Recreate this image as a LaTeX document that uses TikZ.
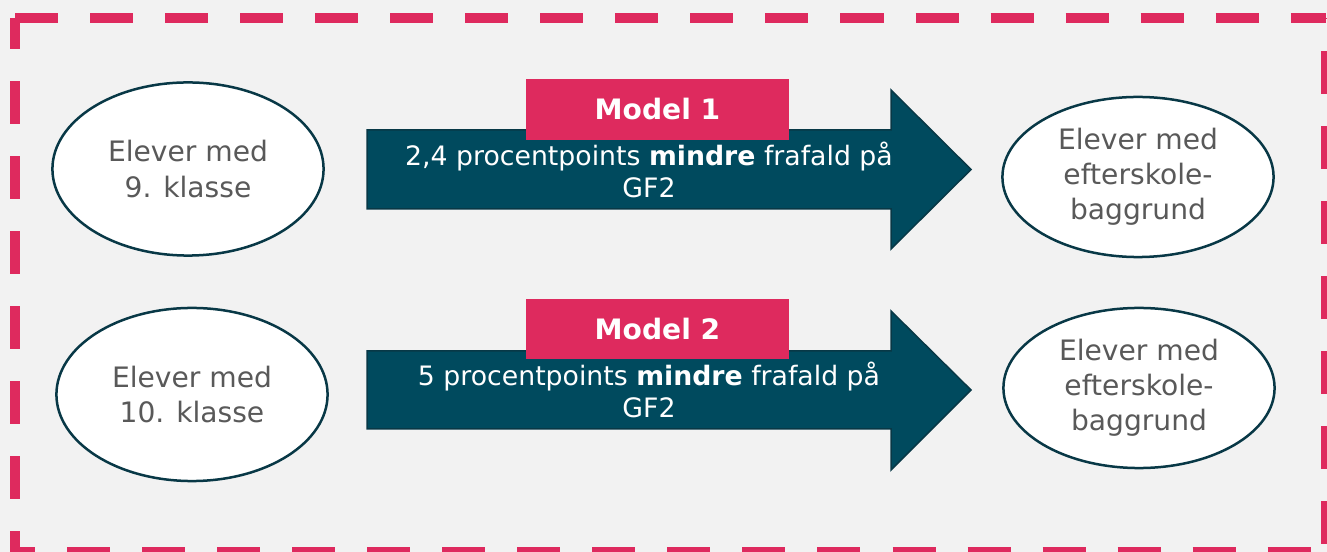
\documentclass[tikz,border=0pt]{standalone}
\usepackage{fontspec}
\setmainfont{DejaVu Sans}
\usetikzlibrary{positioning}
\usetikzlibrary{shapes.geometric}
\definecolor{baggrund}{RGB}{242,242,242}
\definecolor{pinkrod}{RGB}{222,42,94}
\definecolor{petrol}{RGB}{0,74,94}
\definecolor{petrolkant}{RGB}{8,56,70}
\definecolor{tekstgraa}{RGB}{89,89,89}
\tikzset{
    elev/.style={ellipse, draw=petrolkant, line width=0.025cm, fill=white,
        minimum width=2.71cm, minimum height=1.73cm, inner sep=0pt,
        align=center, text=tekstgraa, font=\fontsize{8pt}{10pt}\selectfont}, % ellipserne
    modelboks/.style={rectangle, fill=pinkrod, minimum width=2.63cm,
        minimum height=0.6cm, inner sep=0pt, text=white,
        font=\fontsize{8pt}{10pt}\selectfont\bfseries},
    pil/.style={fill=petrol, draw=petrolkant, line width=0.015cm},
    piltekst/.style={align=center, text=white, inner sep=0pt,
        font=\fontsize{7.6pt}{9.2pt}\selectfont},
    ramme/.style={draw=pinkrod, line width=0.1cm, dash pattern=on 0.43cm off 0.32cm},
}

\begin{document}
\begin{tikzpicture}[x=0.01cm,y=-0.01cm]
  % baggrund og ramme
  \fill[baggrund] (0,0) rectangle (1327,552);
  \useasboundingbox (0,0) rectangle (1327,552);
  \clip (0,0) rectangle (1327,552);
  \draw[ramme] (15,18) -- (1326,18);
  \draw[ramme, dash phase=0.12cm] (15,18) -- (15,552);
  \draw[ramme, dash phase=0.23cm] (15,552) -- (1326,552);
  \draw[ramme, dash phase=0.42cm] (1326,18) -- (1326,552);

  % model 1
  \node[elev] (e9) at (188,169) {Elever med\\9. klasse};
  \node[elev, minimum height=1.6cm] (ef1) at (1138,177) {Elever med\\efterskole-\\baggrund};
  \draw[pil] (367,130) -- (891,130) -- (891,90) -- (971,169.5)
             -- (891,249) -- (891,209) -- (367,209) -- cycle;
  \node[piltekst] (p1) at (649,170) {2,4 procentpoints \textbf{mindre} frafald på\\GF2};
  \node[modelboks] (m1) at (657.5,109.5) {Model 1};

  % model 2
  \node[elev] (e10) at (192,394.5) {Elever med\\10. klasse};
  \node[elev, minimum height=1.6cm] (ef2) at (1139,388) {Elever med\\efterskole-\\baggrund};
  \draw[pil] (367,351) -- (891,351) -- (891,311) -- (971,390)
             -- (891,470) -- (891,429) -- (367,429) -- cycle;
  \node[piltekst] (p2) at (649,390) {5 procentpoints \textbf{mindre} frafald på\\GF2};
  \node[modelboks] (m2) at (657.5,329) {Model 2};
\end{tikzpicture}
\end{document}
